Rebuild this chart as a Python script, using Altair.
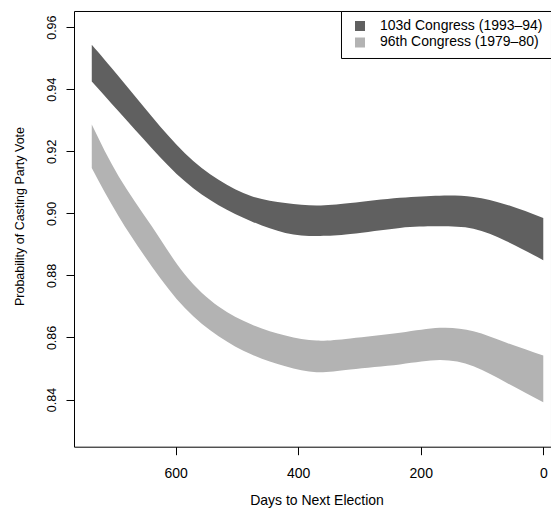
import altair as alt
import pandas as pd

# days before the next election (x axis runs from 730 down to 0)
days = [737, 693, 639, 585, 530, 476, 421, 370, 315, 234, 169, 114, 60, 0]

# 103d Congress (1993-94) band
c103_hi = [0.9543, 0.9441, 0.9312, 0.9194, 0.9108, 0.9055, 0.9033, 0.9025, 0.9033, 0.9050, 0.9057, 0.9053, 0.9028, 0.8985]
c103_lo = [0.9425, 0.9328, 0.9210, 0.9103, 0.9026, 0.8974, 0.8937, 0.8927, 0.8933, 0.8953, 0.8958, 0.8950, 0.8910, 0.8849]

# 96th Congress (1979-80) band
c96_hi = [0.9286, 0.9119, 0.8958, 0.8803, 0.8700, 0.8642, 0.8606, 0.8590, 0.8597, 0.8615, 0.8631, 0.8620, 0.8583, 0.8542]
c96_lo = [0.9146, 0.8990, 0.8829, 0.8695, 0.8604, 0.8545, 0.8507, 0.8488, 0.8497, 0.8513, 0.8527, 0.8507, 0.8454, 0.8391]

series = ['103d Congress (1993\u201394)', '96th Congress (1979\u201380)']
colors = ['#606060', '#b3b3b3']

df = pd.concat([
    pd.DataFrame({'days': days, 'lo': c103_lo, 'hi': c103_hi, 'congress': series[0]}),
    pd.DataFrame({'days': days, 'lo': c96_lo, 'hi': c96_hi, 'congress': series[1]}),
])

font = 'Liberation Sans'

chart = alt.Chart(df).mark_area(interpolate='natural').encode(
    x=alt.X('days:Q',
            scale=alt.Scale(domain=[766, -12.6], nice=False, zero=False),
            axis=alt.Axis(title='Days to Next Election', values=[0, 200, 400, 600],
                          grid=False, domain=False, tickSize=8, tickColor='#000',
                          labelFont=font, labelFontSize=14, labelColor='#000',
                          labelBaseline='alphabetic', labelPadding=22.5,
                          titleFont=font, titleFontSize=14, titleFontWeight='normal',
                          titleColor='#000', titleBaseline='alphabetic',
                          titleX=242.5, titleY=58)),
    y=alt.Y('lo:Q',
            scale=alt.Scale(domain=[0.8248, 0.9652], nice=False, zero=False),
            axis=alt.Axis(title='Probability of Casting Party Vote',
                          values=[0.84, 0.86, 0.88, 0.90, 0.92, 0.94, 0.96], format='.2f',
                          grid=False, domain=False, tickSize=8, tickColor='#000',
                          labelFont=font, labelFontSize=12.5, labelColor='#000',
                          labelAngle=270, labelAlign='center', labelBaseline='alphabetic',
                          labelPadding=11,
                          titleFont=font, titleFontSize=12.5, titleFontWeight='normal',
                          titleColor='#000', titleAngle=270, titleAlign='center',
                          titleBaseline='alphabetic', titleX=-51, titleY=205)),
    y2='hi:Q',
    color=alt.Color('congress:N',
                    scale=alt.Scale(domain=series, range=colors),
                    legend=alt.Legend(title=None, orient='top-right', offset=0,
                                      strokeColor='#000', fillColor='#fff', padding=8,
                                      symbolType='square', symbolSize=100,
                                      symbolStrokeWidth=0, symbolOffset=4,
                                      labelFont=font, labelFontSize=14, labelColor='#000',
                                      labelOffset=13, labelLimit=300, rowPadding=2.5)),
).properties(
    width=477,
    height=435.7,
    autosize=alt.AutoSizeParams(type='none'),
    padding={'left': 66, 'top': 3, 'right': 0, 'bottom': 62},
).configure_view(
    stroke='#000',
    strokeWidth=1,
)

chart.save("out.html", embed_options={"renderer": "svg", "actions": False})
